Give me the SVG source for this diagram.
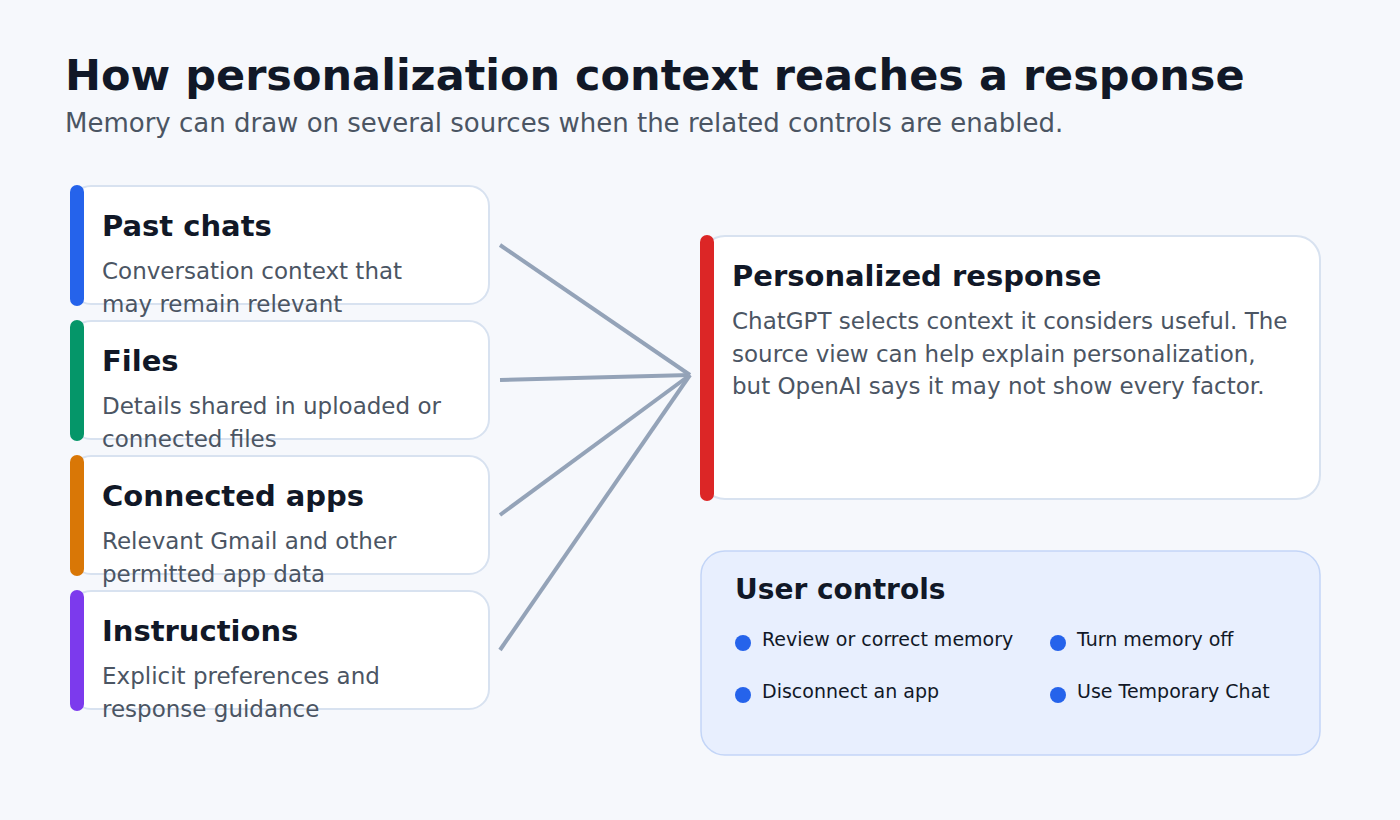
<svg xmlns="http://www.w3.org/2000/svg" width="1400" height="820" viewBox="0 0 1400 820">
<style>
text{font-family:"DejaVu Sans","Noto Sans",sans-serif}
.h1{font-size:43px;font-weight:bold;fill:#111827}
.sub{font-size:26px;fill:#4b5563}
.ct{font-size:29px;font-weight:bold;fill:#111827}
.cd{font-size:23px;fill:#4b5563}
.card{fill:#ffffff;stroke:#d8e2f0;stroke-width:2}
.ut{font-size:28px;font-weight:bold;fill:#111827}
.ui{font-size:19px;fill:#111827}
.dot{fill:#2563eb}
.conn{stroke:#94a3b8;stroke-width:4;fill:none}
</style>
<rect width="1400" height="820" fill="#f6f8fc"/>
<text class="h1" x="65" y="90">How personalization context reaches a response</text>
<text class="sub" x="65" y="132">Memory can draw on several sources when the related controls are enabled.</text>
<g id="connectors">
<line class="conn" x1="500" y1="245" x2="690" y2="375"/>
<line class="conn" x1="500" y1="380" x2="690" y2="375"/>
<line class="conn" x1="500" y1="515" x2="690" y2="375"/>
<line class="conn" x1="500" y1="650" x2="690" y2="375"/>
</g>
<g id="past-chats">
<rect class="card" x="71" y="186" width="418" height="118" rx="20"/>
<rect x="70" y="185" width="14" height="121" rx="7" fill="#2563eb"/>
<text class="ct" x="102" y="236">Past chats</text>
<text class="cd" x="102" y="279">Conversation context that</text>
<text class="cd" x="102" y="312">may remain relevant</text>
</g>
<g id="files">
<rect class="card" x="71" y="321" width="418" height="118" rx="20"/>
<rect x="70" y="320" width="14" height="121" rx="7" fill="#059669"/>
<text class="ct" x="102" y="371">Files</text>
<text class="cd" x="102" y="414">Details shared in uploaded or</text>
<text class="cd" x="102" y="447">connected files</text>
</g>
<g id="connected-apps">
<rect class="card" x="71" y="456" width="418" height="118" rx="20"/>
<rect x="70" y="455" width="14" height="121" rx="7" fill="#d97706"/>
<text class="ct" x="102" y="506">Connected apps</text>
<text class="cd" x="102" y="549">Relevant Gmail and other</text>
<text class="cd" x="102" y="582">permitted app data</text>
</g>
<g id="instructions">
<rect class="card" x="71" y="591" width="418" height="118" rx="20"/>
<rect x="70" y="590" width="14" height="121" rx="7" fill="#7c3aed"/>
<text class="ct" x="102" y="641">Instructions</text>
<text class="cd" x="102" y="684">Explicit preferences and</text>
<text class="cd" x="102" y="717">response guidance</text>
</g>
<g id="personalized-response">
<rect class="card" x="701" y="236" width="619" height="263" rx="24"/>
<rect x="700" y="235" width="14" height="266" rx="7" fill="#dc2626"/>
<text class="ct" x="732" y="286">Personalized response</text>
<text class="cd" x="732" y="329">ChatGPT selects context it considers useful. The</text>
<text class="cd" x="732" y="362">source view can help explain personalization,</text>
<text class="cd" x="732" y="394">but OpenAI says it may not show every factor.</text>
</g>
<g id="user-controls">
<rect x="701" y="551" width="619" height="204" rx="24" fill="#e8effe" stroke="#c3d5f7" stroke-width="1.5"/>
<text class="ut" x="735" y="599">User controls</text>
<circle class="dot" cx="743" cy="643" r="8"/>
<text class="ui" x="762" y="646">Review or correct memory</text>
<circle class="dot" cx="1058" cy="643" r="8"/>
<text class="ui" x="1077" y="646">Turn memory off</text>
<circle class="dot" cx="743" cy="695" r="8"/>
<text class="ui" x="762" y="698">Disconnect an app</text>
<circle class="dot" cx="1058" cy="695" r="8"/>
<text class="ui" x="1077" y="698">Use Temporary Chat</text>
</g>
</svg>
